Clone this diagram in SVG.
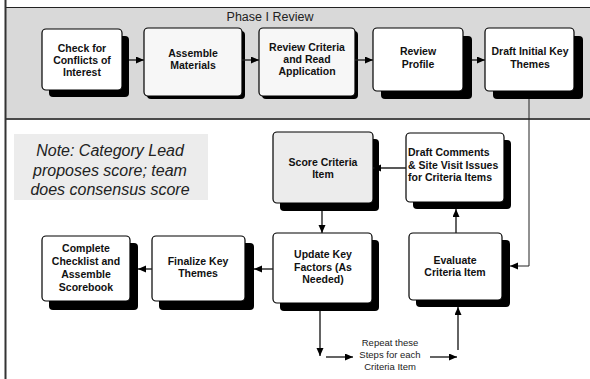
<svg xmlns="http://www.w3.org/2000/svg" width="590" height="379" viewBox="0 0 590 379">
<defs>
<style>
.box{stroke:#000;stroke-width:1.2}
.sh{fill:#000}
.t{font-family:"Liberation Sans",Arial,sans-serif;font-weight:bold;font-size:10.5px;fill:#111;text-anchor:middle}
.tl{text-anchor:start}
.c{fill:none;stroke:#222;stroke-width:1.4}
.c1{fill:none;stroke:#222;stroke-width:1}
.note{font-family:"Liberation Sans",Arial,sans-serif;font-style:italic;font-size:16px;fill:#222;text-anchor:middle}
.small{font-family:"Liberation Sans",Arial,sans-serif;font-size:9.5px;fill:#222;text-anchor:middle}
</style>
<marker id="ah" markerUnits="userSpaceOnUse" markerWidth="9" markerHeight="8" refX="8" refY="3.5" orient="auto">
<path d="M0,0 L8,3.5 L0,7 z" fill="#000"/>
</marker>
</defs>
<rect width="590" height="379" fill="#fff"/>
<g id="panel">
<rect x="5" y="7" width="585" height="112" fill="#d9d9d9"/>
<line x1="5" y1="7.5" x2="590" y2="7.5" stroke="#222" stroke-width="1.2"/>
<line x1="5" y1="119" x2="590" y2="119" stroke="#4a4a4a" stroke-width="2"/>
<line x1="5.5" y1="0" x2="5.5" y2="379" stroke="#333" stroke-width="2"/>
<text x="270" y="21" font-family="'Liberation Sans',Arial,sans-serif" font-size="12.5" fill="#222" text-anchor="middle">Phase I Review</text>
</g>
<g id="n1">
<rect class="sh" x="49" y="36" width="80" height="61" rx="4"/>
<rect class="box" x="42" y="29" width="80" height="61" rx="4" fill="#fff"/>
<text class="t" x="82" y="51.5">Check for</text>
<text class="t" x="82" y="63.5">Conflicts of</text>
<text class="t" x="82" y="75.5">Interest</text>
</g>
<g id="n2">
<rect class="sh" x="147" y="31" width="98" height="68" rx="4"/>
<rect class="box" x="144" y="28" width="98" height="68" rx="4" fill="#f7f7f7"/>
<text class="t" x="193" y="57">Assemble</text>
<text class="t" x="193" y="69">Materials</text>
</g>
<g id="n3">
<rect class="sh" x="262" y="31" width="96" height="68" rx="4"/>
<rect class="box" x="259" y="28" width="96" height="68" rx="4" fill="#f7f7f7"/>
<text class="t" x="307" y="50.5">Review Criteria</text>
<text class="t" x="307" y="62.5">and Read</text>
<text class="t" x="307" y="74.5">Application</text>
</g>
<g id="n4">
<rect class="sh" x="381" y="36" width="91" height="63" rx="4"/>
<rect class="box" x="373" y="28" width="90" height="63" rx="4" fill="#fff"/>
<text class="t" x="418" y="55">Review</text>
<text class="t" x="418" y="67.5">Profile</text>
</g>
<g id="n5">
<rect class="sh" x="493" y="36" width="90" height="63" rx="4"/>
<rect class="box" x="485" y="28" width="89" height="63" rx="4" fill="#fff"/>
<text class="t" x="530" y="55">Draft Initial Key</text>
<text class="t" x="530" y="67.5">Themes</text>
</g>
<g id="note">
<rect x="14" y="134" width="194" height="66" fill="#ececec"/>
<text class="note" x="110" y="156">Note: Category Lead</text>
<text class="note" x="110" y="175.5">proposes score; team</text>
<text class="note" x="110" y="195">does consensus score</text>
</g>
<g id="n6">
<rect class="sh" x="280" y="139" width="99" height="72" rx="4"/>
<rect class="box" x="273" y="132" width="100" height="71" rx="4" fill="#ececec"/>
<text class="t" x="323" y="166">Score Criteria</text>
<text class="t" x="323" y="178">Item</text>
</g>
<g id="n7">
<rect class="sh" x="413" y="140" width="98" height="69" rx="4"/>
<rect class="box" x="406" y="133" width="98" height="69" rx="4" fill="#fff"/>
<text class="t tl" x="408" y="156">Draft Comments</text>
<text class="t tl" x="408" y="168.5">&amp; Site Visit Issues</text>
<text class="t tl" x="408" y="181">for Criteria Items</text>
</g>
<g id="n8">
<rect class="sh" x="416" y="240" width="94" height="67" rx="4"/>
<rect class="box" x="409" y="233" width="93" height="67" rx="4" fill="#fff"/>
<text class="t" x="455" y="264">Evaluate</text>
<text class="t" x="455" y="276">Criteria Item</text>
</g>
<g id="n9">
<rect class="sh" x="280" y="240" width="99" height="71" rx="4"/>
<rect class="box" x="273" y="233" width="99" height="70" rx="4" fill="#fff"/>
<text class="t" x="323" y="258">Update Key</text>
<text class="t" x="323" y="270.5">Factors (As</text>
<text class="t" x="323" y="283">Needed)</text>
</g>
<g id="n10">
<rect class="sh" x="159" y="243" width="95" height="67" rx="4"/>
<rect class="box" x="152" y="236" width="93" height="65" rx="4" fill="#fff"/>
<text class="t" x="198" y="265">Finalize Key</text>
<text class="t" x="198" y="277">Themes</text>
</g>
<g id="n11">
<rect class="sh" x="49" y="243" width="89" height="67" rx="4"/>
<rect class="box" x="42" y="236" width="88" height="65" rx="4" fill="#fff"/>
<text class="t" x="86" y="252">Complete</text>
<text class="t" x="86" y="265">Checklist and</text>
<text class="t" x="86" y="278">Assemble</text>
<text class="t" x="86" y="291">Scorebook</text>
</g>
<g id="connectors">
<line class="c" x1="129" y1="60" x2="144" y2="60" marker-end="url(#ah)"/>
<line class="c" x1="242" y1="60" x2="259" y2="60" marker-end="url(#ah)"/>
<line class="c" x1="355" y1="60" x2="373" y2="60" marker-end="url(#ah)"/>
<line class="c" x1="472" y1="60" x2="485" y2="60" marker-end="url(#ah)"/>
<path class="c1" d="M529,99 V266 H510" marker-end="url(#ah)"/>
<line class="c" x1="456" y1="233" x2="456" y2="209" marker-end="url(#ah)"/>
<line class="c" x1="406" y1="168" x2="373" y2="168" marker-end="url(#ah)"/>
<line class="c" x1="322" y1="211" x2="322" y2="233" marker-end="url(#ah)"/>
<line class="c" x1="273" y1="269" x2="254" y2="269" marker-end="url(#ah)"/>
<line class="c" x1="152" y1="269" x2="138" y2="269" marker-end="url(#ah)"/>
<line class="c" x1="320" y1="311" x2="320" y2="356" marker-end="url(#ah)"/>
<line class="c" x1="326" y1="357" x2="353" y2="357" marker-end="url(#ah)"/>
<line class="c" x1="430" y1="357" x2="457" y2="357" marker-end="url(#ah)"/>
<line class="c" x1="458" y1="350" x2="458" y2="307" marker-end="url(#ah)"/>
<text class="small" x="390" y="346">Repeat these</text>
<text class="small" x="390" y="358">Steps for each</text>
<text class="small" x="390" y="370">Criteria Item</text>
</g>
</svg>
